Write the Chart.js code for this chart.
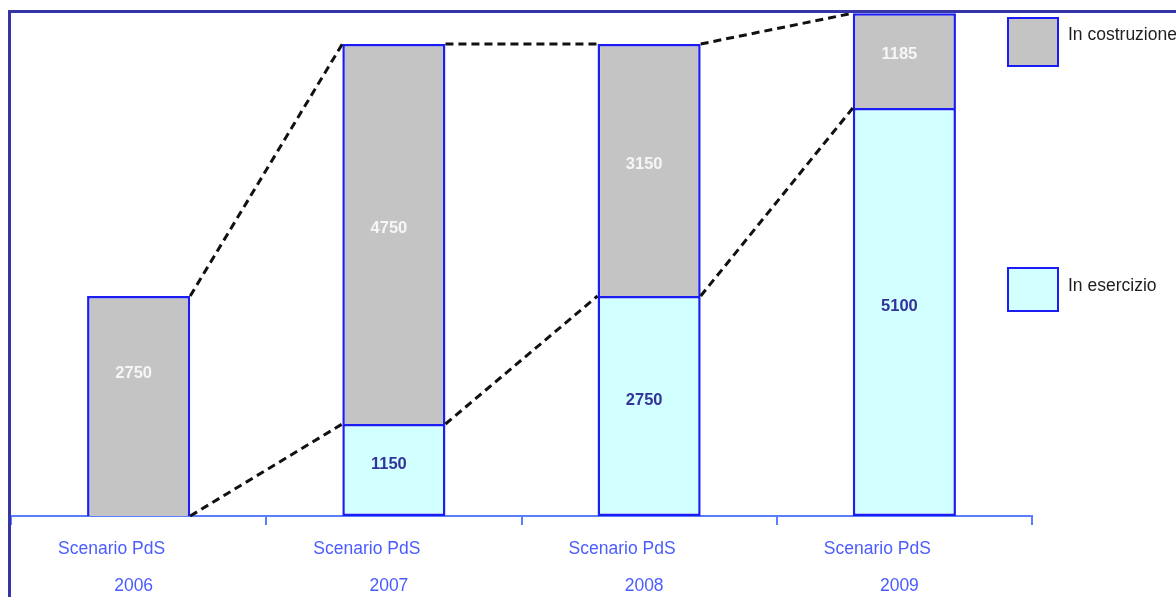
<!DOCTYPE html>
<html>
<head>
<meta charset="utf-8">
<script src="https://cdn.jsdelivr.net/npm/chart.js@4/dist/chart.umd.min.js"></script>
<style>
  html, body { margin: 0; padding: 0; background: #ffffff; }
  #wrap { width: 1176px; height: 597px; position: relative; }
</style>
</head>
<body>
<div id="wrap"><canvas id="c" width="1176" height="597"></canvas></div>
<script>
// Scenario categories (two-line tick labels)
const scenarios = [
  ['Scenario PdS', '2006'],
  ['Scenario PdS', '2007'],
  ['Scenario PdS', '2008'],
  ['Scenario PdS', '2009']
];
// MW in operation and under construction
const inEsercizio = [0, 1150, 2750, 5100];
const inCostruzione = [2750, 4750, 3150, 1185];

const FONT = '"Liberation Sans", Arial, sans-serif';
const BORDER_BLUE = '#1c1cf4';
const GREY = '#c4c4c4';
const CYAN = '#d2ffff';
const AXIS_BLUE = '#5b7dff';

// Value labels inside each segment
const segmentLabels = {
  id: 'segmentLabels',
  afterDatasetsDraw(chart) {
    const ctx = chart.ctx;
    ctx.save();
    ctx.font = 'bold 16.5px ' + FONT;
    ctx.textAlign = 'center';
    ctx.textBaseline = 'middle';
    chart.data.datasets.forEach((ds, di) => {
      const meta = chart.getDatasetMeta(di);
      meta.data.forEach((bar, i) => {
        const v = ds.data[i];
        if (!v) return;
        const cy = (bar.y + bar.base) / 2;
        const dy = (di === 1 && i === 0) ? -33 : -6;
        ctx.fillStyle = ds.labelColor;
        ctx.fillText(String(v), bar.x - 5, cy + dy);
      });
    });
    ctx.restore();
  }
};

// Dashed connectors between consecutive stacks
const connectors = {
  id: 'connectors',
  afterDatasetsDraw(chart) {
    const ctx = chart.ctx;
    const lower = chart.getDatasetMeta(0).data;
    const upper = chart.getDatasetMeta(1).data;
    ctx.save();
    ctx.strokeStyle = '#111111';
    ctx.lineWidth = 3;
    ctx.setLineDash([8, 5]);
    for (let i = 0; i < upper.length - 1; i++) {
      const a = upper[i], b = upper[i + 1];
      const ax = a.x + a.width / 2, bx = b.x - b.width / 2;
      ctx.beginPath();
      ctx.moveTo(ax, a.y);
      ctx.lineTo(bx, b.y);
      ctx.stroke();
      const la = lower[i], lb = lower[i + 1];
      ctx.beginPath();
      ctx.moveTo(ax, la.y);
      ctx.lineTo(bx, lb.y);
      ctx.stroke();
    }
    ctx.restore();
  }
};

// Two-line category captions under the axis
const categoryCaptions = {
  id: 'categoryCaptions',
  afterDraw(chart) {
    const ctx = chart.ctx;
    const xs = chart.scales.x;
    const top = xs.top;
    ctx.save();
    ctx.fillStyle = '#4a5cff';
    ctx.font = '17.5px ' + FONT;
    ctx.textAlign = 'center';
    ctx.textBaseline = 'middle';
    chart.data.labels.forEach((lines, i) => {
      const x = xs.getPixelForValue(i);
      ctx.fillText(lines[0], x - 27, top + 33);
      ctx.fillText(lines[1], x - 5, top + 70);
    });
    ctx.restore();
  }
};

// Legend boxes on the right side
const sideLegend = {
  id: 'sideLegend',
  afterDraw(chart, args, opts) {
    const ctx = chart.ctx;
    ctx.save();
    opts.entries.forEach(e => {
      const ds = chart.data.datasets[e.dataset];
      ctx.fillStyle = ds.backgroundColor;
      ctx.fillRect(e.x, e.y, e.w, e.h);
      ctx.strokeStyle = BORDER_BLUE;
      ctx.lineWidth = 2;
      ctx.strokeRect(e.x, e.y, e.w, e.h);
      ctx.fillStyle = '#1e1e1e';
      ctx.font = '17.5px ' + FONT;
      ctx.textAlign = 'left';
      ctx.textBaseline = 'middle';
      ctx.fillText(ds.label, e.x + e.w + 10, e.ty);
    });
    ctx.restore();
  }
};

// Outer frame (top and left edges)
const frame = {
  id: 'frame',
  afterDraw(chart) {
    const ctx = chart.ctx;
    ctx.save();
    ctx.strokeStyle = '#3535a8';
    ctx.lineWidth = 3;
    ctx.beginPath();
    ctx.moveTo(9.5, 597);
    ctx.lineTo(9.5, 11.5);
    ctx.lineTo(1176, 11.5);
    ctx.stroke();
    ctx.restore();
  }
};

new Chart(document.getElementById('c'), {
  type: 'bar',
  data: {
    labels: scenarios,
    datasets: [
      {
        label: 'In esercizio',
        data: inEsercizio,
        backgroundColor: CYAN,
        borderColor: BORDER_BLUE,
        borderWidth: 2.5,
        borderSkipped: false,
        labelColor: '#33339a'
      },
      {
        label: 'In costruzione',
        data: inCostruzione,
        backgroundColor: GREY,
        borderColor: BORDER_BLUE,
        borderWidth: 2.5,
        borderSkipped: 'bottom',
        labelColor: '#f6f6f6'
      }
    ]
  },
  options: {
    responsive: false,
    animation: false,
    layout: { padding: { left: 11, right: 144, top: 12, bottom: 0 } },
    barPercentage: 0.404,
    categoryPercentage: 1,
    plugins: {
      legend: { display: false },
      tooltip: { enabled: false },
      sideLegend: {
        entries: [
          { dataset: 1, x: 1008, y: 18, w: 50, h: 48, ty: 35 },
          { dataset: 0, x: 1008, y: 268, w: 50, h: 43, ty: 286 }
        ]
      }
    },
    scales: {
      x: {
        stacked: true,
        afterFit(scale) { scale.height = 81; },
        border: { display: true, color: AXIS_BLUE, width: 2 },
        grid: {
          display: true,
          offset: true,
          drawOnChartArea: false,
          drawTicks: true,
          tickLength: 9,
          color: AXIS_BLUE,
          lineWidth: 2
        },
        ticks: { display: false }
      },
      y: {
        stacked: true,
        display: false,
        min: 0,
        max: 6300
      }
    }
  },
  plugins: [segmentLabels, connectors, categoryCaptions, sideLegend, frame]
});
</script>
</body>
</html>
